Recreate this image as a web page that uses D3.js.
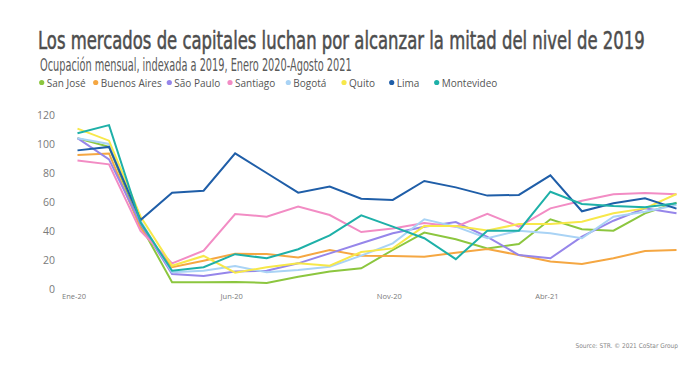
<!DOCTYPE html>
<html>
<head>
<meta charset="utf-8">
<script src="https://cdn.jsdelivr.net/npm/d3@7"></script>
<style>
  body { margin: 0; background: #fff; }
  svg { display: block; }
  .narrow { font-family: "Liberation Sans Narrow", "DejaVu Sans Condensed", "Roboto", sans-serif; }
  .tick text { font-family: "Open Sans", "Noto Sans", sans-serif; fill: #7a7a7a; }
</style>
</head>
<body>
<script>
// months Ene-20 .. Ago-21
const months = ["Ene-20","Feb-20","Mar-20","Abr-20","May-20","Jun-20","Jul-20","Ago-20","Sep-20","Oct-20",
  "Nov-20","Dic-20","Ene-21","Feb-21","Mar-21","Abr-21","May-21","Jun-21","Jul-21","Ago-21"]
const xTicks = ["Ene-20", "Jun-20", "Nov-20", "Abr-21"]
const yTicks = [0, 20, 40, 60, 80, 100, 120]

const cities = ["San José", "Buenos Aires", "São Paulo", "Santiago", "Bogotá", "Quito", "Lima", "Montevideo"]
const colors = ["#8cc63f", "#f5a742", "#9686ea", "#f28cc4", "#a9d3f5", "#f7e84a", "#1f5ea8", "#1eb0a8"]

const sanJose     = [104, 98, 44, 4.6, 4.6, 4.8, 4.2, 8.5, 12, 14.3, 26.9, 38.9, 34.3, 28, 31, 48.1, 41.2, 40.2, 52.2, 59.5]
const buenosAires = [92.4, 93.5, 42, 15, 19.5, 24.3, 24.1, 21.8, 26.9, 23, 22.8, 22.3, 25, 27.6, 23.4, 18.9, 17.2, 21.2, 26.2, 26.9]
const saoPaulo    = [104, 89.4, 45, 10.3, 9, 12, 12.6, 17.7, 24.6, 31.5, 38.4, 43, 46.2, 36, 23.4, 21.2, 36.1, 47.1, 55.6, 52.2]
const santiago    = [88.7, 86, 40, 17.7, 26.4, 51.7, 49.9, 56.8, 51, 39.3, 41.8, 45.5, 43, 51.9, 43, 55.6, 60.9, 65.3, 66.2, 65.3]
const bogota      = [104, 100, 47, 11.5, 12.6, 15.9, 11.5, 13.1, 15.4, 23, 31.5, 48.1, 43, 35, 40.2, 38.4, 35, 49.9, 53.3, 57.9]
const quito       = [110.6, 102.3, 50, 16, 22.8, 11.3, 15, 17.7, 16.1, 25.5, 28, 43.4, 43.4, 40.3, 44.8, 44.8, 46.4, 52.2, 55.6, 65.5]
const lima        = [95.6, 98, 47.6, 66.4, 67.8, 93.6, 80, 66.4, 70.6, 62.3, 61.4, 74.5, 70.1, 64.4, 64.9, 78.4, 53.6, 59.1, 62.5, 55.4]
const montevideo  = [107.4, 113, 46, 12.6, 15, 24, 21.2, 27.4, 37, 50.8, 43, 35, 20.6, 40.2, 40.2, 67.1, 58.6, 57.2, 56.3, 59.1]

const series = [sanJose, buenosAires, saoPaulo, santiago, bogota, quito, lima, montevideo]

const w = 700, h = 366

const svg = d3.select("body").append("svg").attr("width", w).attr("height", h)

// squeeze a text horizontally so it spans the given width (fake condensed face)
function squeeze(sel, x, y, width) {
  const len = sel.node().getComputedTextLength()
  sel.attr("transform", "translate(" + x + "," + y + ") scale(" + (width / len) + ",1)")
}

// titles
const title = svg.append("text").attr("class", "narrow")
  .attr("font-size", 24).attr("fill", "#4d4d4d")
  .attr("stroke", "#4d4d4d").attr("stroke-width", 0.5)
  .text("Los mercados de capitales luchan por alcanzar la mitad del nivel de 2019")
squeeze(title, 38, 48.5, 607)

const subtitle = svg.append("text").attr("class", "narrow")
  .attr("font-size", 17).attr("fill", "#5a5a5a")
  .text("Ocupación mensual, indexada a 2019, Enero 2020-Agosto 2021")
squeeze(subtitle, 40, 71, 312)

// legend
const legendX = [41.7, 95.7, 169.3, 230, 288.3, 344, 391.7, 436.7]
const legend = svg.append("g").selectAll("g")
  .data(cities)
  .enter()
  .append("g")
  .attr("transform", (d, i) => "translate(" + legendX[i] + ",83)")
legend.append("circle").attr("r", 2.6).attr("cy", -0.5).attr("fill", (d, i) => colors[i])
legend.append("text")
  .attr("x", 5).attr("y", 3.5)
  .attr("font-family", "'Open Sans', 'Noto Sans', sans-serif")
  .attr("font-size", 10).attr("fill", "#555")
  .text(d => d)

// scales
const xScale = d3.scalePoint().domain(months).range([77.5, 676.5])
const yScale = d3.scaleLinear().domain([0, 120]).range([289, 115])

const yAxis = d3.axisLeft(yScale).tickValues(yTicks).tickSize(0).tickPadding(0)
svg.append("g")
  .attr("transform", "translate(55,0)")
  .call(yAxis)
  .call(g => g.select(".domain").remove())
  .selectAll("text").attr("font-size", 10.5)

const xAxis = d3.axisBottom(xScale).tickValues(xTicks).tickSize(0).tickPadding(0)
svg.append("g")
  .attr("transform", "translate(0,294)")
  .call(xAxis)
  .call(g => g.select(".domain").remove())
  .selectAll("text").attr("font-size", 7.5).attr("dx", -4)

// lines
const line = d3.line()
  .x((d, i) => xScale(months[i]))
  .y(d => yScale(d))

svg.append("g").selectAll("path")
  .data(series)
  .enter()
  .append("path")
  .attr("d", line)
  .attr("fill", "none")
  .attr("stroke", (d, i) => colors[i])
  .attr("stroke-width", 2)
  .attr("stroke-linejoin", "miter")

// source
svg.append("text").attr("class", "narrow")
  .attr("x", 678).attr("y", 348)
  .attr("text-anchor", "end")
  .attr("font-size", 6.5).attr("fill", "#888")
  .text("Source: STR. © 2021 CoStar Group")
</script>
</body>
</html>
